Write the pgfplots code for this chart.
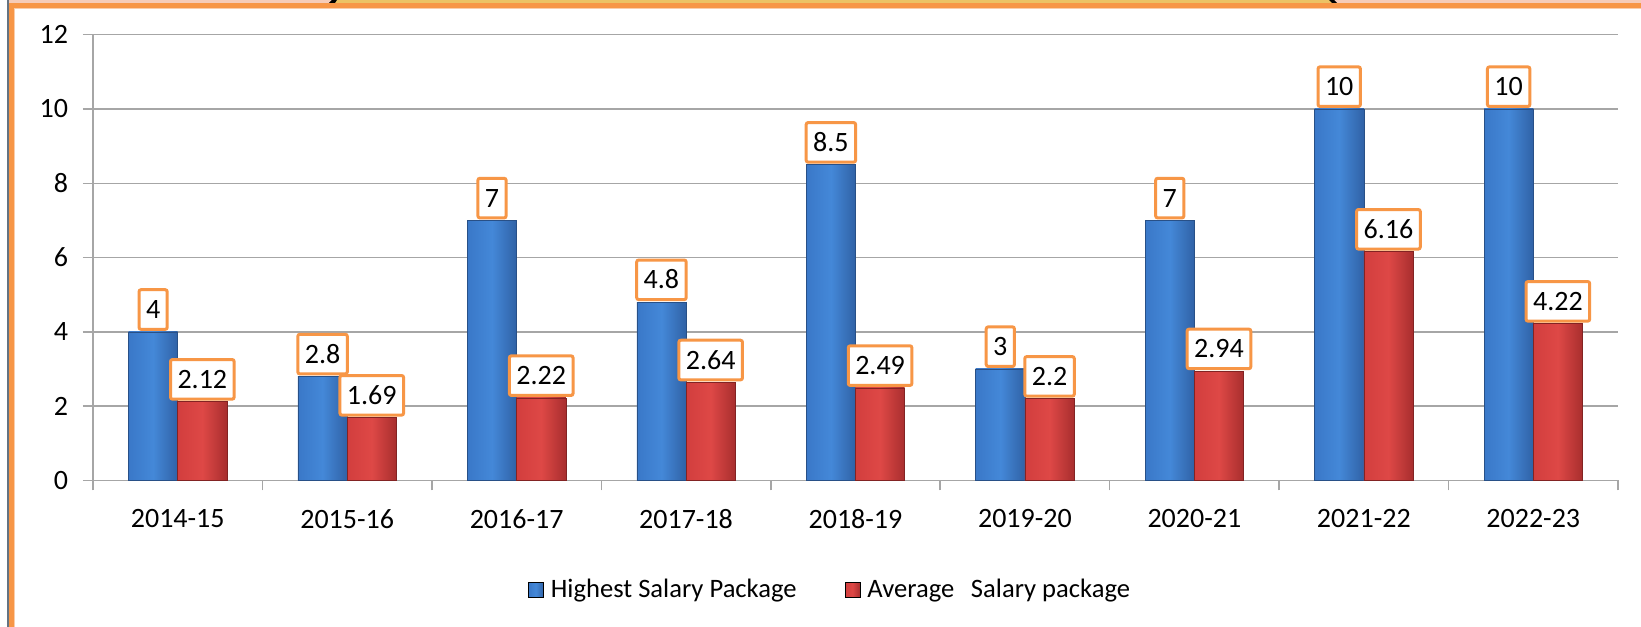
\documentclass[border=0pt]{standalone}
\usepackage{pgfplots}
\pgfplotsset{compat=1.18}
\usepackage{fontspec}
\setmainfont{Carlito}
\definecolor{gridgray}{RGB}{166,166,166}
\definecolor{boxorange}{RGB}{247,150,70}
\definecolor{lightorange}{RGB}{250,205,170}
\definecolor{framegray}{RGB}{100,115,130}
\definecolor{pinkband}{RGB}{246,204,184}
\definecolor{yellowband}{RGB}{236,194,100}
\definecolor{blueL}{RGB}{58,120,200}
\definecolor{blueM}{RGB}{68,136,216}
\definecolor{blueR}{RGB}{48,98,166}
\definecolor{blueD}{RGB}{40,80,135}
\definecolor{redL}{RGB}{210,62,62}
\definecolor{redM}{RGB}{222,72,70}
\definecolor{redR}{RGB}{168,46,46}
\definecolor{redD}{RGB}{130,35,35}
\newcommand{\chartfont}{\fontsize{14bp}{16.8bp}\selectfont}
\newcommand{\legendfont}{\fontsize{13.3bp}{16bp}\selectfont}
\pgfplotsset{
  basebar/.style={ybar, bar width=24.6bp, line width=0.3bp, forget plot, nodes near coords},
  bluebar/.style={basebar, bar shift=-12.3bp, draw=blueD, left color=blueL, right color=blueR, middle color=blueM,
    every node near coord/.append style={xshift=-12.3bp}},
  redbar/.style={basebar, bar shift=12.3bp, draw=redD, left color=redL, right color=redR, middle color=redM,
    every node near coord/.append style={xshift=12.3bp}},
}
\begin{document}
\begin{tikzpicture}
\fill[white] (-46.5bp,-73.3bp) rectangle (774bp,240.2bp);
\begin{axis}[
  at={(0,0)}, anchor=south west,
  scale only axis, width=762.5bp, height=222.85bp,
  xmin=-0.5, xmax=8.5, ymin=0, ymax=12,
  ytick={0,2,...,12},
  xtick={0,...,8},
  xticklabels={2014-15,2015-16,2016-17,2017-18,2018-19,2019-20,2020-21,2021-22,2022-23},
  minor xtick={-0.5,0.5,...,8.5},
  axis x line*=bottom, axis y line*=left,
  axis line style={gridgray, line width=0.75bp, -},
  ymajorgrids, grid style={gridgray, line width=0.75bp},
  tick align=outside,
  major tick length=5bp, minor tick length=5bp,
  tick style={gridgray, line width=0.75bp},
  major x tick style={draw=none},
  /pgf/number format/assume math mode=true,
  ticklabel style={font=\chartfont, text=black},
  yticklabel style={xshift=-4bp},
  xticklabel style={yshift=-6bp},
  every node near coord/.append style={font=\chartfont, text=black, draw=boxorange, line width=1.5bp, fill=white, rounded corners=1bp, inner xsep=3.5bp, inner ysep=0.8bp, text height=13.6bp, text depth=4.6bp, yshift=0.5bp},
  legend style={draw=none, fill=none, at={(0.484,-0.245)}, anchor=center, font=\legendfont, legend columns=-1, /tikz/every even column/.append style={column sep=22bp}, /tikz/every odd column/.append style={column sep=1.5bp}},
  legend image code/.code={\fill[#1] (0bp,-3.75bp) rectangle (7.5bp,3.75bp);},
]
\addlegendimage{left color=blueL, right color=blueR, middle color=blueM}
\addlegendentry{Highest Salary Package}
\addlegendimage{left color=redL, right color=redR, middle color=redM}
\addlegendentry{Average\hspace{0.4em} Salary package}
% Highest Salary Package
\addplot[bluebar] coordinates {(0,4)};
\addplot[bluebar] coordinates {(1,2.8)};
\addplot[bluebar] coordinates {(2,7)};
\addplot[bluebar] coordinates {(3,4.8)};
\addplot[bluebar] coordinates {(4,8.5)};
\addplot[bluebar] coordinates {(5,3)};
\addplot[bluebar] coordinates {(6,7)};
\addplot[bluebar] coordinates {(7,10)};
\addplot[bluebar] coordinates {(8,10)};
% Average Salary package
\addplot[redbar] coordinates {(0,2.12)};
\addplot[redbar] coordinates {(1,1.69)};
\addplot[redbar] coordinates {(2,2.22)};
\addplot[redbar] coordinates {(3,2.64)};
\addplot[redbar] coordinates {(4,2.49)};
\addplot[redbar] coordinates {(5,2.2)};
\addplot[redbar] coordinates {(6,2.94)};
\addplot[redbar] coordinates {(7,6.16)};
\addplot[redbar] coordinates {(8,4.22)};
\end{axis}
% frame
\fill[framegray] (-43bp,-73.3bp) rectangle (-42bp,240.2bp);
\fill[boxorange] (-42bp,-73.3bp) rectangle (-39.5bp,238.7bp);
\fill[lightorange] (-39.5bp,-73.3bp) rectangle (-39bp,236.2bp);
\fill[pinkband] (-42bp,238.7bp) rectangle (774bp,240.2bp);
\fill[yellowband] (120bp,238.7bp) rectangle (620bp,240.2bp);
\fill[black] (118bp,238.7bp) -- (121bp,238.7bp) -- (122bp,240.2bp) -- (119.5bp,240.2bp) -- cycle;
\fill[black] (618bp,240.2bp) -- (620.5bp,240.2bp) -- (622bp,238.7bp) -- (619.5bp,238.7bp) -- cycle;
\fill[boxorange] (-42bp,236.2bp) rectangle (774bp,238.7bp);
\fill[lightorange] (-39bp,235.7bp) rectangle (774bp,236.2bp);
\pgfresetboundingbox
\useasboundingbox (-46.5bp,-73.3bp) rectangle (774bp,240.2bp);
\end{tikzpicture}
\end{document}
